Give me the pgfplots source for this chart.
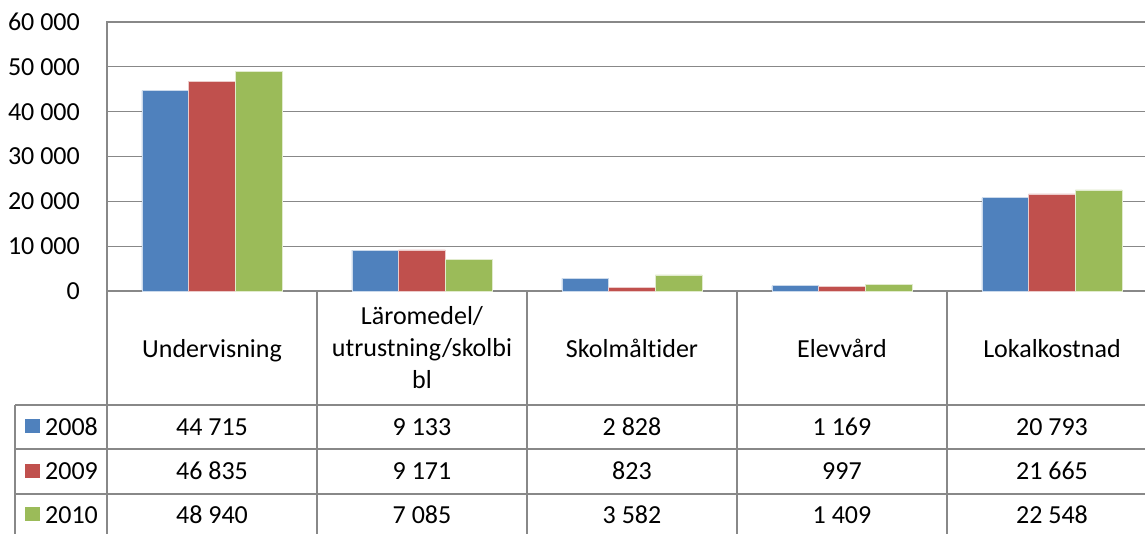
\documentclass[border=0pt]{standalone}
\usepackage{pgfplots}
\usepackage{pgfplotstable}
\pgfplotsset{compat=1.18}
\usepackage{fontspec}
\setmainfont{Carlito}[Ligatures=NoCommon]
\definecolor{c08}{HTML}{4F81BD}
\definecolor{c09}{HTML}{C0504D}
\definecolor{c10}{HTML}{9BBB59}
\definecolor{gridc}{HTML}{888888}
\pgfplotstableread{
x y2008 y2009 y2010
0 44715 46835 48940
1 9133 9171 7085
2 2828 823 3582
3 1169 997 1409
4 20793 21665 22548
}\data
\begin{document}
\fontsize{26}{32}\selectfont
\begin{tikzpicture}
\path[use as bounding box] (0pt,0pt) rectangle (1145pt,-533pt);
\begin{axis}[
  at={(107pt,-291pt)}, anchor=south west,
  scale only axis, width=1050pt, height=269pt,
  xmin=-0.5, xmax=4.5, ymin=0, ymax=60000,
  xtick=\empty,
  ytick={0,10000,20000,30000,40000,50000,60000},
  scaled y ticks=false,
  major tick length=0pt,
  ymajorgrids,
  grid style={gridc, line width=1.3pt},
  axis line style={gridc, line width=1.3pt},
  yticklabel style={font=\fontsize{26}{30}\selectfont, inner sep=0pt, xshift=-27pt, anchor=east},
  /pgf/number format/.cd, 1000 sep={\ }, assume math mode=true,
  /pgfplots/.cd,
  ybar=0pt, bar width=46.7pt,
]
\addplot[fill=c08, draw=white!70!c08, line width=0.6pt] table[x=x,y=y2008]{\data};
\addplot[fill=c09, draw=white!70!c09, line width=0.6pt] table[x=x,y=y2009]{\data};
\addplot[fill=c10, draw=white!70!c10, line width=0.6pt] table[x=x,y=y2010]{\data};
\end{axis}
\begin{scope}[x=1pt,y=-1pt]
\draw[gridc, line width=1.3pt] (107,22) -- (107,545);
\foreach \xx in {317,527,737,947} \draw[gridc, line width=1.3pt] (\xx,291) -- (\xx,545);
\draw[gridc, line width=1.3pt] (15,405) -- (15,545);
\foreach \yy in {405,449,494} \draw[gridc, line width=1.3pt] (15,\yy) -- (1160,\yy);
% category labels
\node[anchor=base, inner sep=0pt] at (212,357) {Undervisning};
\node[anchor=base, inner sep=0pt] at (422,324) {Läromedel/};
\node[anchor=base, inner sep=0pt] at (422,356.5) {utrustning/skolbi};
\node[anchor=base, inner sep=0pt] at (422,388) {bl};
\node[anchor=base, inner sep=0pt] at (632,357) {Skolmåltider};
\node[anchor=base, inner sep=0pt] at (842,357) {Elevvård};
\node[anchor=base, inner sep=0pt] at (1052,357) {Lokalkostnad};
% legend column
\fill[c08] (25,419) rectangle (40,433);
\fill[c09] (25,463.5) rectangle (40,477.5);
\fill[c10] (25,507) rectangle (40,521);
\node[anchor=base west, inner sep=0pt] at (45,435) {2008};
\node[anchor=base west, inner sep=0pt] at (45,479.5) {2009};
\node[anchor=base west, inner sep=0pt] at (45,523) {2010};
% values
\foreach \i in {0,...,4} {
  \pgfplotstablegetelem{\i}{y2008}\of\data
  \node[anchor=base, inner sep=0pt] at ({212+210*\i},435) {\pgfmathprintnumber[assume math mode=true,1000 sep={\ }]{\pgfplotsretval}};
  \pgfplotstablegetelem{\i}{y2009}\of\data
  \node[anchor=base, inner sep=0pt] at ({212+210*\i},479.5) {\pgfmathprintnumber[assume math mode=true,1000 sep={\ }]{\pgfplotsretval}};
  \pgfplotstablegetelem{\i}{y2010}\of\data
  \node[anchor=base, inner sep=0pt] at ({212+210*\i},523) {\pgfmathprintnumber[assume math mode=true,1000 sep={\ }]{\pgfplotsretval}};
}
\end{scope}
\end{tikzpicture}
\end{document}
